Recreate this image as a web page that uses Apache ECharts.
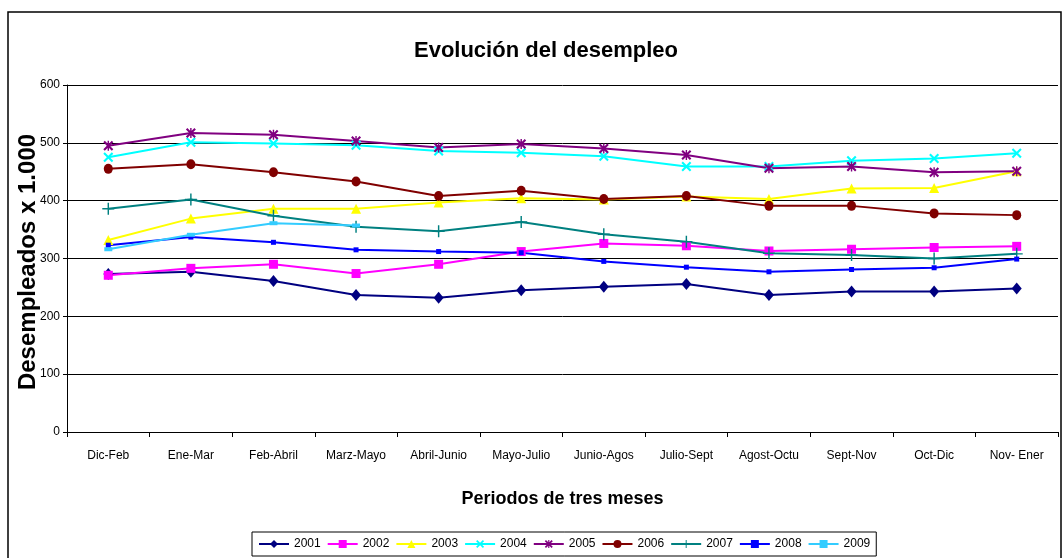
<!DOCTYPE html>
<html>
<head>
<meta charset="utf-8">
<script src="https://cdn.jsdelivr.net/npm/echarts@6/dist/echarts.min.js"></script>
<style>
  html, body { margin: 0; padding: 0; background: #fff; }
  #main { width: 1064px; height: 558px; }
</style>
</head>
<body>
<div id="main"></div>
<script>
// periodos (eje X)
const periodos = ['Dic-Feb', 'Ene-Mar', 'Feb-Abril', 'Marz-Mayo', 'Abril-Junio', 'Mayo-Julio',
  'Junio-Agos', 'Julio-Sept', 'Agost-Octu', 'Sept-Nov', 'Oct-Dic', 'Nov- Ener'];

// desempleados x 1.000
const d2001 = [273, 277, 261, 237, 232, 245, 251, 256, 237, 243, 243, 248];
const d2002 = [271, 283, 290, 274, 290, 312, 326, 322, 313, 316, 319, 321];
const d2003 = [332, 369, 386, 386, 397, 404, 402, 407, 403, 421, 422, 451];
const d2004 = [475, 501, 499, 496, 486, 483, 477, 459, 459, 469, 473, 482];
const d2005 = [495, 517, 514, 503, 492, 498, 490, 479, 456, 459, 449, 451];
const d2006 = [455, 463, 449, 433, 408, 417, 403, 408, 391, 391, 378, 375];
const d2007 = [386, 402, 374, 355, 347, 363, 342, 329, 309, 306, 300, 308];
const d2008 = [323, 337, 328, 315, 312, 310, 295, 285, 277, 281, 284, 299];
const d2009 = [316, 341, 361, 357];

const yTicks = [0, 100, 200, 300, 400, 500, 600];

const fontNarrow = "'Liberation Sans Narrow', 'Arial Narrow', 'Liberation Sans', Arial, sans-serif";
const fontBold = "'Liberation Sans', Arial, sans-serif";

// marcadores tipo Excel
const simX = 'path://M1.5,0L5,3.5L8.5,0L10,1.5L6.5,5L10,8.5L8.5,10L5,6.5L1.5,10L0,8.5L3.5,5L0,1.5Z';
const simMas = 'path://M4.4,0H5.6V4.4H10V5.6H5.6V10H4.4V5.6H0V4.4H4.4Z';
const simAsterisco = 'path://M1.5,0L5,3.5L8.5,0L10,1.5L6.5,5L10,8.5L8.5,10L5,6.5L1.5,10L0,8.5L3.5,5L0,1.5Z M4.3,0H5.7V10H4.3Z';

function serie(nombre, datos, color, simbolo, tam) {
  return {
    name: nombre,
    type: 'line',
    data: datos,
    symbol: simbolo,
    symbolSize: tam,
    showAllSymbol: true,
    lineStyle: { color: color, width: 2 },
    itemStyle: { color: color },
    emphasis: { disabled: true },
    z: 3
  };
}

const chart = echarts.init(document.getElementById('main'));
const option = {
  animation: false,
  title: {
    text: 'Evolución del desempleo',
    left: 541,
    top: 35,
    textAlign: 'center',
    textStyle: { fontFamily: fontBold, fontWeight: 'bold', fontSize: 22, color: '#000' }
  },
  grid: { left: 67, right: 6, top: 85, bottom: 126 },
  legend: {
    left: 252,
    bottom: 2,
    itemWidth: 30,
    itemHeight: 10,
    itemGap: 6,
    padding: [6, 6],
    borderColor: '#000',
    borderWidth: 1,
    textStyle: { fontFamily: fontBold, fontSize: 12, color: '#000' },
    data: [
      { name: '2001' }, { name: '2002' }, { name: '2003' }, { name: '2004' }, { name: '2005' },
      { name: '2006' }, { name: '2007' },
      { name: '2008', itemStyle: { borderWidth: 0 }, symbolSize: 5 },
      { name: '2009' }
    ]
  },
  xAxis: {
    type: 'category',
    data: periodos,
    boundaryGap: true,
    name: 'Periodos de tres meses',
    nameLocation: 'middle',
    nameGap: 58,
    nameTextStyle: { fontFamily: fontBold, fontWeight: 'bold', fontSize: 18, color: '#000' },
    axisLine: { lineStyle: { color: '#000', width: 1 } },
    axisTick: { show: true, interval: 0, alignWithLabel: false, length: 5, lineStyle: { color: '#000' } },
    axisLabel: { interval: 0, margin: 18, fontFamily: fontNarrow, fontSize: 12, color: '#000' }
  },
  yAxis: {
    type: 'value',
    min: yTicks[0],
    max: yTicks[yTicks.length - 1],
    interval: 100,
    axisLine: { show: true, lineStyle: { color: '#000', width: 1 } },
    axisTick: { show: true, length: 4, lineStyle: { color: '#000' } },
    axisLabel: { margin: 7, fontFamily: fontNarrow, fontSize: 12, color: '#000' },
    splitLine: { show: true, lineStyle: { color: '#000', width: 1 } }
  },
  graphic: [
    {
      type: 'rect',
      shape: { x: 8, y: 12, width: 1053, height: 560 },
      style: { fill: 'none', stroke: '#000', lineWidth: 1.5 },
      silent: true
    },
    {
      type: 'text',
      x: 28,
      y: 262,
      rotation: Math.PI / 2,
      style: {
        text: 'Desempleados x 1.000',
        fontFamily: fontBold,
        fontWeight: 'bold',
        fontSize: 24,
        fill: '#000',
        align: 'center',
        verticalAlign: 'middle'
      },
      silent: true
    }
  ],
  series: [
    serie('2001', d2001, '#000080', 'diamond', [10, 12]),
    serie('2002', d2002, '#FF00FF', 'rect', 9),
    serie('2003', d2003, '#FFFF00', 'triangle', 10),
    serie('2004', d2004, '#00FFFF', simX, 10),
    serie('2005', d2005, '#800080', simAsterisco, 10),
    serie('2006', d2006, '#800000', 'circle', [9, 10]),
    serie('2007', d2007, '#008080', simMas, 12),
    serie('2008', d2008, '#0000FF', 'rect', 5),
    serie('2009', d2009, '#33CCFF', 'rect', [8, 4])
  ]
};
chart.setOption(option);
</script>
</body>
</html>
